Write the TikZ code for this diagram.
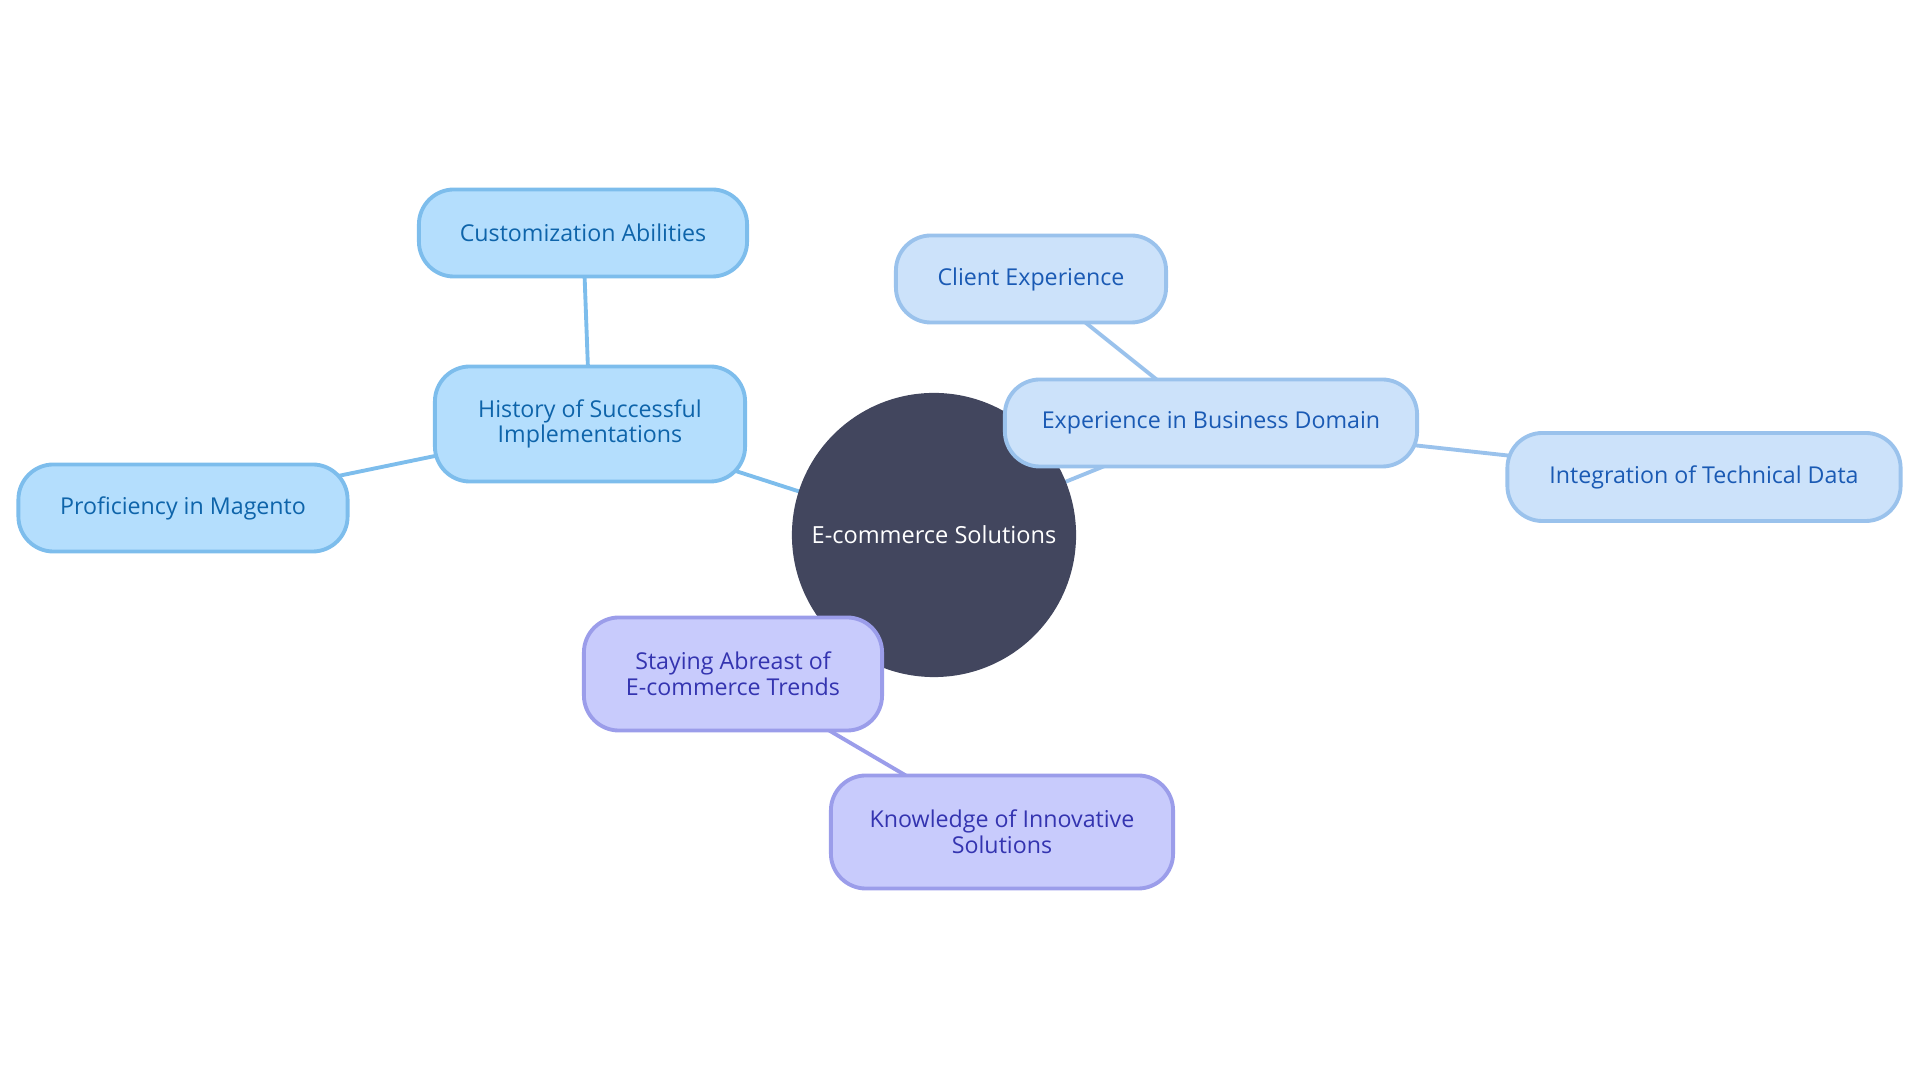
\documentclass[tikz,border=0pt]{standalone}
\usepackage{fontspec}
\setmainfont{Open Sans}
\usetikzlibrary{positioning,backgrounds}
\definecolor{mmcore}{HTML}{42465E}
\definecolor{skyfill}{HTML}{B4DEFD}
\definecolor{skydraw}{HTML}{7DBDEC}
\definecolor{skytext}{HTML}{0E64AA}
\definecolor{palefill}{HTML}{CCE2FA}
\definecolor{paledraw}{HTML}{9AC2EC}
\definecolor{paletext}{HTML}{1A5AB4}
\definecolor{lilfill}{HTML}{C8CBFC}
\definecolor{lildraw}{HTML}{9B9DEA}
\definecolor{liltext}{HTML}{3434B0}
\tikzset{
  core/.style={circle, fill=mmcore, text=white, minimum size=2.84cm, inner sep=0pt,
    font=\fontsize{6.7pt}{7.3pt}\selectfont},
  leaf/.style={rounded corners=0.35cm, line width=1.1pt, align=center, inner sep=2pt,
    minimum height=0.87cm, font=\fontsize{6.6pt}{7.3pt}\selectfont},
  skybox/.style={leaf, draw=skydraw, fill=skyfill, text=skytext},
  palebox/.style={leaf, draw=paledraw, fill=palefill, text=paletext},
  lilbox/.style={leaf, draw=lildraw, fill=lilfill, text=liltext},
  twig/.style={line width=1.1pt},
}
\begin{document}
\begin{tikzpicture}[x=0.01cm, y=-0.01cm]
\useasboundingbox (0,0) rectangle (1920,1080);
\node[core] (root) at (934,535) {E-commerce Solutions};

\node[skybox, minimum width=3.10cm, minimum height=1.15cm] (hist) at (590,424) {History of Successful\\Implementations};
\node[skybox, minimum width=3.28cm] (cust) at (583,233) {Customization Abilities};
\node[skybox, minimum width=3.29cm] (prof) at (183,508) {Proficiency in Magento};

\node[palebox, minimum width=4.12cm] (biz) at (1211,423) {Experience in Business Domain};
\node[palebox, minimum width=2.70cm] (client) at (1031,279) {Client Experience};
\node[palebox, minimum width=3.93cm, minimum height=0.88cm] (integ) at (1704,477) {Integration of Technical Data};

\node[lilbox, minimum width=2.98cm, minimum height=1.13cm] (trend) at (733,674) {Staying Abreast of\\E-commerce Trends};
\node[lilbox, minimum width=3.42cm, minimum height=1.13cm] (innov) at (1002,832) {Knowledge of Innovative\\Solutions};

\begin{scope}[on background layer]
\draw[twig, skydraw] (root.center) -- (hist.center);
\draw[twig, skydraw] (hist.center) -- (cust.center);
\draw[twig, skydraw] (hist.center) -- (prof.center);
\draw[twig, paledraw] (root.center) -- (biz.center);
\draw[twig, paledraw] (biz.center) -- (client.center);
\draw[twig, paledraw] (biz.center) -- (integ.center);
\draw[twig, lildraw] (trend.center) -- (innov.center);
\end{scope}
\end{tikzpicture}
\end{document}
